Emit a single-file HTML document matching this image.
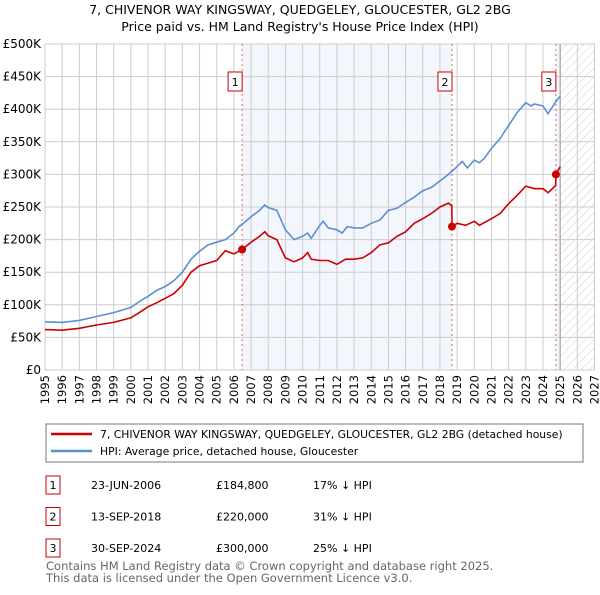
<!DOCTYPE html>
<html><head><meta charset="utf-8"><style>
body{margin:0;background:#fff;font-family:"Liberation Sans","DejaVu Sans",sans-serif;}
svg text{font-family:"DejaVu Sans","Liberation Sans",sans-serif;}
</style></head><body>
<svg id="chart" width="600" height="590" xmlns="http://www.w3.org/2000/svg">
<defs><pattern id="hatch" width="6" height="6" patternUnits="userSpaceOnUse" patternTransform="rotate(45)"><line x1="0" y1="0" x2="0" y2="6" stroke="#ccc" stroke-width="1"/></pattern></defs>
<text x="300" y="14" text-anchor="middle" font-size="12.5">7, CHIVENOR WAY KINGSWAY, QUEDGELEY, GLOUCESTER, GL2 2BG</text>
<text x="300" y="31" text-anchor="middle" font-size="12.5">Price paid vs. HM Land Registry's House Price Index (HPI)</text>
<g id="plot"></g>
<g>
<rect x="46" y="424" width="537" height="38" fill="#fff" stroke="#777"/>
<line x1="51" y1="434" x2="92" y2="434" stroke="#cc0000" stroke-width="2.5"/>
<text x="100" y="438" font-size="10.8">7, CHIVENOR WAY KINGSWAY, QUEDGELEY, GLOUCESTER, GL2 2BG (detached house)</text>
<line x1="51" y1="451" x2="92" y2="451" stroke="#5b8fd0" stroke-width="2.5"/>
<text x="100" y="455" font-size="10.8">HPI: Average price, detached house, Gloucester</text>
</g>
<g id="table" font-size="11"></g>
<text x="46" y="570" font-size="11.5" fill="#666">Contains HM Land Registry data © Crown copyright and database right 2025.</text>
<text x="46" y="582" font-size="11.5" fill="#666">This data is licensed under the Open Government Licence v3.0.</text>
</svg>
<script>
const hpiYears=[1995,1996,1997,1998,1999,2000,2000.5,2001,2001.5,2002,2002.5,2003,2003.5,2004,2004.5,2005,2005.5,2006,2006.3,2006.5,2007,2007.5,2007.8,2008,2008.5,2009,2009.5,2010,2010.3,2010.5,2011,2011.2,2011.5,2012,2012.3,2012.6,2013,2013.5,2014,2014.5,2015,2015.5,2016,2016.5,2017,2017.5,2018,2018.5,2019,2019.3,2019.6,2020,2020.3,2020.6,2021,2021.5,2022,2022.5,2023,2023.3,2023.5,2024,2024.3,2024.7,2025];
const hpiValues=[74,73,76,82,88,96,105,113,122,128,137,150,170,182,192,196,200,210,220,224,235,245,253,249,245,215,200,205,210,202,222,228,218,215,210,220,218,218,225,230,245,248,257,265,275,280,290,300,312,320,310,322,318,325,340,355,375,395,410,405,408,405,393,410,420];
const ppYears=[1995,1996,1997,1998,1999,2000,2000.5,2001,2001.5,2002,2002.5,2003,2003.5,2004,2004.5,2005,2005.5,2006,2006.48,2007,2007.5,2007.8,2008,2008.5,2009,2009.5,2010,2010.3,2010.5,2011,2011.5,2012,2012.5,2013,2013.5,2014,2014.5,2015,2015.5,2016,2016.5,2017,2017.5,2018,2018.5,2018.69,2018.7,2019,2019.5,2020,2020.3,2021,2021.5,2022,2022.5,2023,2023.5,2024,2024.3,2024.74,2024.75,2025];
const ppValues=[62,61,64,69,73,80,88,97,103,110,117,130,150,160,164,168,183,178,184.8,196,205,212,206,200,172,166,172,180,170,168,168,162,170,170,172,180,192,195,205,212,225,232,240,250,256,252,220,225,222,228,222,232,240,255,268,282,278,278,272,283,300,312];
const saleYears=[2006.48,2018.7,2024.75];
const saleValues=[184.8,220,300];
const saleLabels=["1","2","3"];
const saleDates=["23-JUN-2006","13-SEP-2018","30-SEP-2024"];
const salePrices=["£184,800","£220,000","£300,000"];
const salePcts=["17% ↓ HPI","31% ↓ HPI","25% ↓ HPI"];
const yTicks=[0,50,100,150,200,250,300,350,400,450,500];
const yTickLabels=["£0","£50K","£100K","£150K","£200K","£250K","£300K","£350K","£400K","£450K","£500K"];
const xTicks=[1995,1996,1997,1998,1999,2000,2001,2002,2003,2004,2005,2006,2007,2008,2009,2010,2011,2012,2013,2014,2015,2016,2017,2018,2019,2020,2021,2022,2023,2024,2025,2026,2027];

const X0=45,X1=594.5,Y0=370,Y1=44;
const xs=y=>X0+(y-1995)/(2027-1995)*(X1-X0);
const ys=v=>Y0-v/500*(Y0-Y1);
const NS="http://www.w3.org/2000/svg";
const plot=document.getElementById('plot');
function mk(tag,attrs,parent){const e=document.createElementNS(NS,tag);for(const k in attrs)e.setAttribute(k,attrs[k]);(parent||plot).appendChild(e);return e;}
let r=mk('rect',{x:xs(saleYears[0]),y:Y1,width:xs(saleYears[1])-xs(saleYears[0]),height:Y0-Y1,fill:'#eef3fc',opacity:0.7});


r=mk('rect',{x:xs(saleYears[2]),y:Y1,width:xs(2025)-xs(saleYears[2]),height:Y0-Y1,fill:'#eef3fc',opacity:0.7});


r=mk('rect',{x:xs(2025),y:Y1,width:X1-xs(2025),height:Y0-Y1,fill:'url(#hatch)'});


xTicks.forEach(t=>{const l=mk('line',{x1:xs(t),x2:xs(t),y1:Y1,y2:Y0,stroke:'#ccc'});


const tx=mk('text',{x:0,y:0,'font-size':11.5,'text-anchor':'end',transform:`translate(${xs(t)+4},${Y0+5}) rotate(-90)`});tx.textContent=t;

});
yTicks.forEach((t,i)=>{const l=mk('line',{x1:X0,x2:X1,y1:ys(t),y2:ys(t),stroke:'#ccc'});


const tx=mk('text',{x:X0-4,y:ys(t)+4,'font-size':12,'text-anchor':'end'});tx.textContent=yTickLabels[i];

});
const d2=mk('line',{x1:xs(2025),x2:xs(2025),y1:Y1,y2:Y0,stroke:'#999'});


saleYears.forEach((y,i)=>{const l=mk('line',{x1:xs(y),x2:xs(y),y1:Y1,y2:Y0,stroke:'#e06666','stroke-dasharray':'2,3'});


const b=mk('rect',{x:xs(y)-14,y:72,width:14,height:19,fill:'#fff',stroke:'#cc0000'});


const t=mk('text',{x:xs(y)-7,y:86,'font-size':11,'text-anchor':'middle'});t.textContent=saleLabels[i];

});
const path=(xa,va)=>xa.map((x,i)=>(i?'L':'M')+xs(x).toFixed(1)+','+ys(va[i]).toFixed(1)).join('');
const hp=mk('path',{d:path(hpiYears,hpiValues),fill:'none',stroke:'#5b8fd0','stroke-width':1.6});


const pp=mk('path',{d:path(ppYears,ppValues),fill:'none',stroke:'#cc0000','stroke-width':1.6});


saleYears.forEach((y,i)=>{const c=mk('circle',{cx:xs(y),cy:ys(saleValues[i]),r:4,fill:'#cc0000'});

});
const tb=document.getElementById('table');
saleLabels.forEach((s,i)=>{const y=485+i*31.5;
const b=mk('rect',{x:46,y:y-9,width:14,height:18,fill:'#fff',stroke:'#cc0000'},tb);


const vals=[[53,s,'middle'],[91,saleDates[i],'start'],[216,salePrices[i],'start'],[313,salePcts[i],'start']];
vals.forEach(v=>{const t=mk('text',{x:v[0],y:y+4,'text-anchor':v[2]},tb);t.textContent=v[1];

});});
</script>
</body></html>
